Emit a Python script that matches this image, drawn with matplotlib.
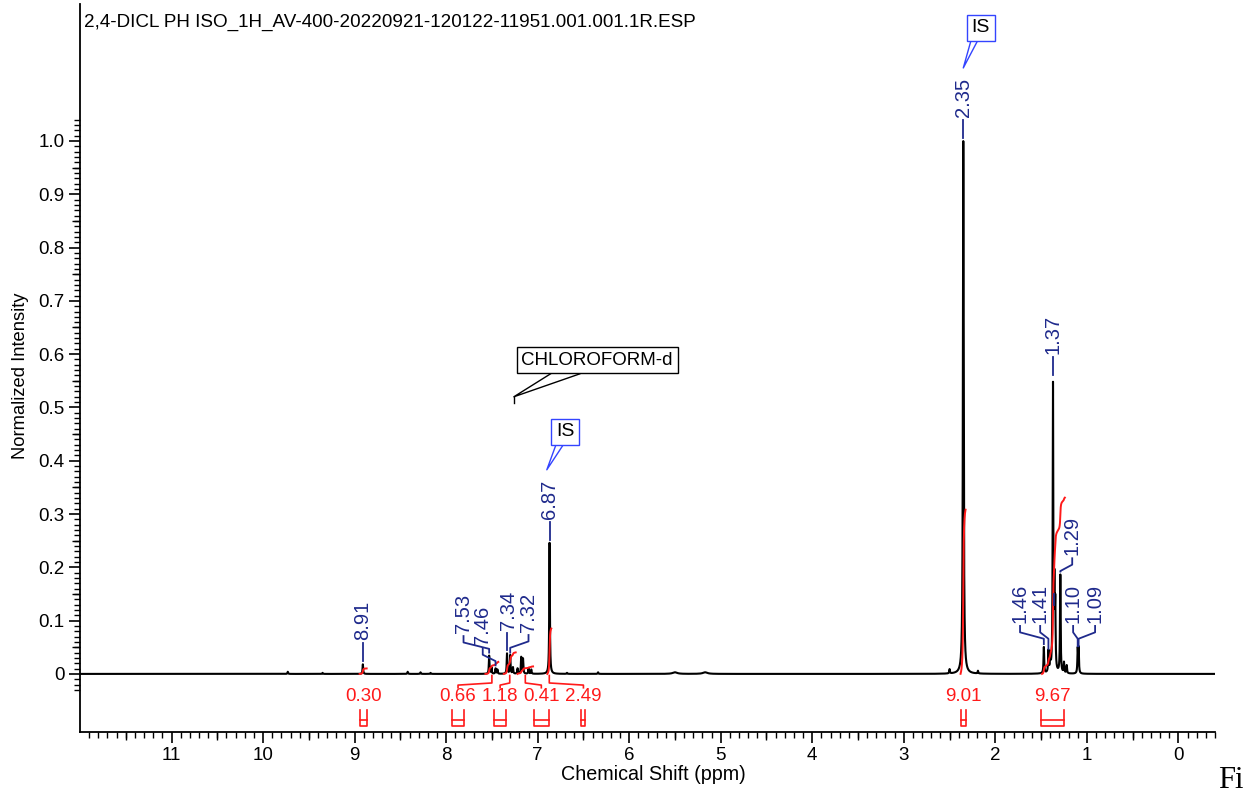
import numpy as np
import matplotlib
matplotlib.use('Agg')
import matplotlib.pyplot as plt
import matplotlib.lines as mlines
import matplotlib.transforms as mtransforms
from matplotlib.ticker import FixedLocator

plt.rcParams['font.family'] = ['Liberation Sans', 'DejaVu Sans']

title = '2,4-DICL PH ISO_1H_AV-400-20220921-120122-11951.001.001.1R.ESP'

# peaks: position (ppm), normalized height, half width (ppm)
peak_ppm = [9.73, 9.35, 8.91, 8.42, 8.28, 8.17,
            7.53, 7.505, 7.46, 7.44, 7.335, 7.30, 7.27, 7.22,
            7.18, 7.16, 7.10, 7.07, 6.87, 6.68, 6.34, 5.50, 5.17,
            2.50, 2.35, 2.19,
            1.47, 1.42, 1.40, 1.37, 1.355, 1.345, 1.29, 1.25, 1.22, 1.10, 1.09]
peak_height = [0.004, 0.002, 0.018, 0.004, 0.003, 0.002,
               0.034, 0.012, 0.010, 0.008, 0.038, 0.035, 0.012, 0.010,
               0.031, 0.028, 0.010, 0.008, 0.246, 0.002, 0.003, 0.003, 0.003,
               0.008, 1.0, 0.005,
               0.049, 0.040, 0.030, 0.535, 0.145, 0.115, 0.184, 0.020, 0.015, 0.044, 0.046]
peak_hwhm = [0.004] * 21 + [0.03, 0.03] + [0.004, 0.005, 0.004] + [0.004] * 11

# peak picking labels
lab_text = ['8.91', '7.53', '7.46', '7.34', '7.32', '6.87', '2.35',
            '1.46', '1.41', '1.37', '1.29', '1.10', '1.09']
lab_x = [8.91, 7.81, 7.60, 7.32, 7.10, 6.87, 2.35,
         1.73, 1.51, 1.37, 1.16, 1.15, 0.91]
lab_base = [0.064, 0.077, 0.054, 0.083, 0.079, 0.291, 1.045,
            0.096, 0.096, 0.600, 0.223, 0.096, 0.096]
lab_peak = [8.91, 7.53, 7.46, 7.335, 7.30, 6.87, 2.35,
            1.47, 1.42, 1.37, 1.29, 1.10, 1.09]
lab_tip = [0.024, 0.040, 0.016, 0.044, 0.040, 0.252, 1.006,
           0.056, 0.047, 0.560, 0.192, 0.052, 0.052]

# integrals
int_value = [0.30, 0.66, 1.18, 0.41, 2.49, 9.01, 9.67]
int_hi = [8.945, 7.57, 7.37, 7.22, 6.895, 2.38, 1.49]
int_lo = [8.868, 7.43, 7.24, 7.05, 6.851, 2.325, 1.24]
int_label_x = [8.90, 7.87, 7.41, 6.96, 6.50, 2.35, 1.38]
int_scale = 0.0342

blue = '#1f2a8c'
red = '#ff1a1a'

ppm = np.linspace(12.0, -0.4, 40000)
spec = np.zeros_like(ppm)
for p, h, w in zip(peak_ppm, peak_height, peak_hwhm):
    spec += h * w**2 / ((ppm - p)**2 + w**2)

fig = plt.figure(figsize=(12.48, 7.91), dpi=100)
ax = fig.add_axes([80/1248, 1 - 732/791, 1135/1248, 728/791])
ax.set_xlim(12.0, -0.4)
ax.set_ylim(-0.109, 1.257)

ax.plot(ppm, spec, color='black', lw=1.5)

# integral curves, labels and brackets
for v, hi, lo, lx in zip(int_value, int_hi, int_lo, int_label_x):
    m = (ppm <= hi) & (ppm >= lo)
    c = np.cumsum(spec[m])
    c = c / c[-1] * v * int_scale
    ax.plot(ppm[m], c, color=red, lw=1.4)
    ax.text(lx, -0.043, '%.2f' % v, color=red, fontsize=13.5, ha='center', va='center')
    half = (hi - lo) / 2
    ax.plot([lx + half, lx + half, lx - half, lx - half], [-0.068, -0.098, -0.098, -0.068],
            color=red, lw=1.2)
    ax.plot([lx + half, lx - half], [-0.087, -0.087], color=red, lw=1.2)
    mid = (hi + lo) / 2
    if abs(mid - lx) > 0.1:
        ax.plot([mid, mid, lx, lx], [-0.003, -0.017, -0.021, -0.026], color=red, lw=1.2)

# peak labels
for t, x, b, p, tip in zip(lab_text, lab_x, lab_base, lab_peak, lab_tip):
    ax.text(x, b, t, rotation=90, color=blue, fontsize=14.5, ha='center', va='bottom')
    if abs(x - p) < 0.02:
        ax.plot([p, p], [tip, b - 0.006], color=blue, lw=1.3)
    else:
        ax.plot([x, x, p, p], [b - 0.006, b - 0.018, b - 0.030, tip], color=blue, lw=1.3)
ax.plot([1.355, 1.355], [0.13, 0.15], color=blue, lw=1.3)

# callouts
ax.text(6.35, 0.589, 'CHLOROFORM-d', fontsize=13.5, ha='center', va='center',
        bbox=dict(boxstyle='square,pad=0.25', fc='white', ec='black', lw=1))
ax.plot([6.86, 7.26, 6.54], [0.563, 0.520, 0.563], color='black', lw=1)
ax.plot([7.26, 7.26], [0.520, 0.508], color='black', lw=1)

ax.text(6.70, 0.454, 'IS', fontsize=14, ha='center', va='center',
        bbox=dict(boxstyle='square,pad=0.25', fc='white', ec='#3344ff', lw=1))
ax.plot([6.80, 6.90, 6.72], [0.430, 0.383, 0.430], color='#3344ff', lw=1)

ax.text(2.16, 1.212, 'IS', fontsize=14, ha='center', va='center',
        bbox=dict(boxstyle='square,pad=0.25', fc='white', ec='#3344ff', lw=1))
ax.plot([2.27, 2.35, 2.20], [1.186, 1.137, 1.186], color='#3344ff', lw=1)

# axes styling
for s in ['top', 'right']:
    ax.spines[s].set_visible(False)
for s in ['left', 'bottom']:
    ax.spines[s].set_linewidth(1.3)

ax.set_xticks(range(0, 12))
ax.set_xticklabels([str(i) for i in range(0, 12)])
ax.xaxis.set_minor_locator(FixedLocator(np.round(np.arange(-0.4, 12.0, 0.1), 2)))
ax.set_yticks(np.round(np.arange(0, 1.01, 0.1), 1))
ax.set_yticklabels(['0'] + ['%.1f' % v for v in np.arange(0.1, 1.01, 0.1)])
ax.yaxis.set_minor_locator(FixedLocator(np.round(np.arange(-0.03, 1.045, 0.01), 2)))
ax.tick_params(which='major', length=8, width=1.2, labelsize=13.5, pad=3)
ax.tick_params(which='minor', length=4.3, width=1.0)

# medium ticks at the half steps
blend_x = mtransforms.blended_transform_factory(ax.transData, ax.transAxes)
xm = np.arange(0.5, 12.0, 1.0)
ax.plot(xm, np.zeros_like(xm), ls='none', marker=mlines.TICKDOWN, ms=6, mew=1.0,
        color='black', transform=blend_x, clip_on=False)
blend_y = mtransforms.blended_transform_factory(ax.transAxes, ax.transData)
ym = np.arange(0.05, 1.0, 0.1)
ax.plot(np.zeros_like(ym), ym, ls='none', marker=mlines.TICKLEFT, ms=6, mew=1.0,
        color='black', transform=blend_y, clip_on=False)

ax.text(0.0035, 0.975, title, transform=ax.transAxes, fontsize=13.6, ha='left', va='center')
ax.text(0.505, -0.058, 'Chemical Shift (ppm)', transform=ax.transAxes, fontsize=14.2,
        ha='center', va='center')
ax.text(-0.0525, 0.49, 'Normalized Intensity', transform=ax.transAxes, fontsize=13.2,
        ha='center', va='center', rotation=90)

fig.text(1218/1248, 1 - 788/791, 'Fi', fontsize=22, family='Liberation Serif',
         ha='left', va='baseline')

fig.savefig('out.png', dpi=100)
